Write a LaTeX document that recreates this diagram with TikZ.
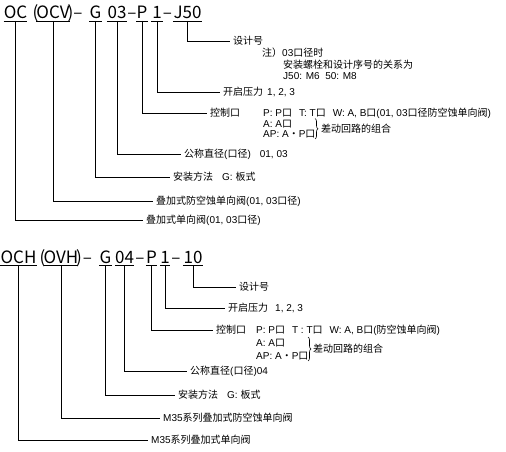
\documentclass[tikz,border=0pt]{standalone}
\usepackage{fontspec}
\setmainfont{Noto Sans CJK SC}
\newfontfamily\latfam{Liberation Sans}
\newcommand\latn[1]{{\latfam #1}}
\usetikzlibrary{decorations.pathreplacing}
\begin{document}
\begin{tikzpicture}[x=1pt,y=-1pt,
  tok/.style={inner sep=0pt, anchor=base, text height=12.5pt, text depth=1.8pt,
              font=\fontsize{17}{17}\selectfont},
  punct/.style={inner sep=0pt, anchor=base, font=\fontsize{17}{17}\selectfont},
  lbl/.style={inner sep=0pt, anchor=west, text height=8.8pt, text depth=1.2pt,
              font=\fontsize{10}{12}\selectfont},
  uline/.style={line width=0.8pt},
  conn/.style={line width=0.8pt, shorten >=3.5pt},
  bracestyle/.style={line width=0.6pt, decorate, decoration={brace, amplitude=3pt}}
]
\useasboundingbox[fill=white] (0,0) rectangle (506,452);

% ================= TOP CODE =================
\node[tok, minimum width=21pt] (oc)  at (15.5,19) {OC};
\node[punct] (p1) at (35.5,19) {(};
\node[tok, minimum width=30pt] (ocv) at (53,19) {OCV};
\node[punct] (p2) at (70.5,19) {)};
\node[punct] (d1) at (78,19) {–};
\node[tok, minimum width=11pt] (g)   at (95.5,19) {G};
\node[tok, minimum width=20pt] (s03) at (117,19) {03};
\node[punct] (d2) at (132,19) {–};
\node[tok, minimum width=10pt] (p)   at (142,19) {P};
\node[tok, minimum width=12pt] (one) at (157,19) {1};
\node[punct] (d3) at (167.5,19) {–};
\node[tok, minimum width=29pt] (j50) at (187.5,19) {J50};
\foreach \n in {oc,ocv,g,s03,p,one,j50}
  \draw[uline] (\n.south west) -- (\n.south east);

% labels
\node[lbl] (lj50) at (233,41) {设计号};
\node[lbl] (n1) at (262,53) {注）\latn{03}口径时};
\node[lbl] (n2) at (283,65) {安装螺栓和设计序号的关系为};
\node[lbl] (n3) at (283,76) {\latn{J50: M6\ \ 50: M8}};
\node[lbl] (lone) at (223,92) {开启压力\hspace{4pt}\latn{1, 2, 3}};
\node[lbl] (lp) at (210,113) {控制口};
\node[lbl] (lpa) at (263,113) {\latn{P: P}口\hspace{7pt}\latn{T: T}口\hspace{7pt}\latn{W: A, B}口\latn{(01, 03}口径防空蚀单向阀\latn{)}};
\node[lbl] (lpb) at (263,123.5) {\latn{A: A}口};
\node[lbl] (lpc) at (263,134) {\latn{AP: A}・\latn{P}口};
\coordinate (bt1) at (315,118.5);
\coordinate (bb1) at (315,139);
\draw[bracestyle] (bt1) -- (bb1);
\node[lbl] (lpd) at (321,129) {差动回路的组合};
\node[lbl] (l03) at (184,154) {公称直径\latn{(}口径\latn{)}\hspace{9pt}\latn{01, 03}};
\node[lbl] (lg) at (173,177) {安装方法\hspace{9pt}\latn{G:\ }板式};
\node[lbl] (locv) at (156,201) {叠加式防空蚀单向阀\latn{(01, 03}口径\latn{)}};
\node[lbl] (loc) at (146,220) {叠加式单向阀\latn{(01, 03}口径\latn{)}};

\draw[conn] (j50.south) |- (lj50.west);
\draw[conn] (one.south) |- (lone.west);
\draw[conn] (p.south) |- (lp.west);
\draw[conn] (s03.south) |- (l03.west);
\draw[conn] (g.south) |- (lg.west);
\draw[conn] (ocv.south) |- (locv.west);
\draw[conn] (oc.south) |- (loc.west);

% ================= BOTTOM CODE =================
\node[tok, minimum width=31pt] (och) at (18.5,263) {OCH};
\node[punct] (q1) at (42.5,263) {(};
\node[tok, minimum width=32pt] (ovh) at (61,263) {OVH};
\node[punct] (q2) at (79,263) {)};
\node[punct] (e1) at (87.5,263) {–};
\node[tok, minimum width=11pt] (bg)  at (105.5,263) {G};
\node[tok, minimum width=19pt] (s04) at (124.5,263) {04};
\node[punct] (e2) at (140,263) {–};
\node[tok, minimum width=11pt] (bp)  at (151.5,263) {P};
\node[tok, minimum width=10pt] (bone) at (165,263) {1};
\node[punct] (e3) at (176,263) {–};
\node[tok, minimum width=20pt] (ten) at (193,263) {10};
\foreach \n in {och,ovh,bg,s04,bp,bone,ten}
  \draw[uline] (\n.south west) -- (\n.south east);

\node[lbl] (lten) at (239,287) {设计号};
\node[lbl] (lbone) at (228,308) {开启压力\hspace{7pt}\latn{1, 2, 3}};
\node[lbl] (lbp) at (216,330) {控制口};
\node[lbl] (lbpa) at (256,330) {\latn{P: P}口\hspace{7pt}\latn{T : T}口\hspace{7pt}\latn{W: A, B}口\latn{(}防空蚀单向阀\latn{)}};
\node[lbl] (lbpb) at (256,343) {\latn{A: A}口};
\node[lbl] (lbpc) at (256,356) {\latn{AP: A}・\latn{P}口};
\coordinate (bt2) at (308,337);
\coordinate (bb2) at (308,361);
\draw[bracestyle] (bt2) -- (bb2);
\node[lbl] (lbpd) at (313,349) {差动回路的组合};
\node[lbl] (l04) at (190,371) {公称直径\latn{(}口径\latn{)04}};
\node[lbl] (lbg) at (178,395) {安装方法\hspace{9pt}\latn{G:\ }板式};
\node[lbl] (lovh) at (163,418) {\latn{M35}系列叠加式防空蚀单向阀};
\node[lbl] (loch) at (151,440) {\latn{M35}系列叠加式单向阀};

\draw[conn] (ten.south) |- (lten.west);
\draw[conn] (bone.south) |- (lbone.west);
\draw[conn] (bp.south) |- (lbp.west);
\draw[conn] (s04.south) |- (l04.west);
\draw[conn] (bg.south) |- (lbg.west);
\draw[conn] (ovh.south) |- (lovh.west);
\draw[conn] (och.south) |- (loch.west);
\end{tikzpicture}
\end{document}
